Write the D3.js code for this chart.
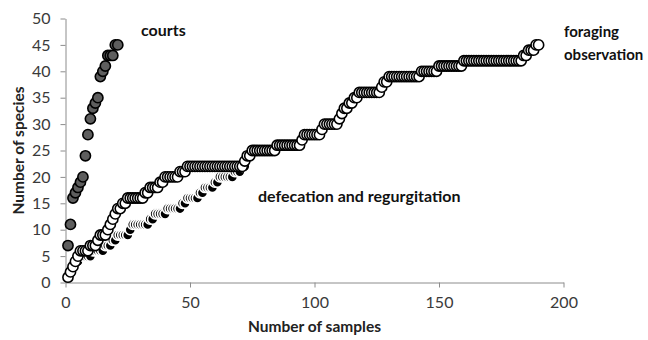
<!DOCTYPE html>
<html>
<head>
<meta charset="utf-8">
<script src="https://cdn.jsdelivr.net/npm/d3@7"></script>
<style>
  body { margin: 0; background: #fff; }
  text { font-family: Lato, "Open Sans", sans-serif; }
</style>
</head>
<body>
<script>
const width = 648;
const height = 340;

// species counts, sample n = index + 1
const courts = [7, 11, 16, 17, 18, 19, 20, 24, 28, 31, 33, 34, 35, 39, 40, 41, 43, 43, 43, 45, 45];

const foraging = [
  1, 2, 3, 4, 5, 6, 6, 6, 6, 7,
  7, 7, 8, 9, 9, 9, 10, 11, 12, 13,
  14, 14, 15, 15, 16, 16, 16, 16, 16, 16,
  16, 17, 17, 18, 18, 18, 18, 19, 19, 20,
  20, 20, 20, 20, 20, 21, 21, 21, 22, 22,
  22, 22, 22, 22, 22, 22, 22, 22, 22, 22,
  22, 22, 22, 22, 22, 22, 22, 22, 22, 22,
  22, 23, 24, 24, 25, 25, 25, 25, 25, 25,
  25, 25, 25, 25, 26, 26, 26, 26, 26, 26,
  26, 26, 26, 26, 27, 28, 28, 28, 28, 28,
  28, 28, 29, 30, 30, 30, 30, 30, 30, 31,
  32, 33, 33, 34, 34, 35, 35, 36, 36, 36,
  36, 36, 36, 36, 36, 36, 37, 38, 38, 39,
  39, 39, 39, 39, 39, 39, 39, 39, 39, 39,
  39, 39, 40, 40, 40, 40, 40, 40, 40, 41,
  41, 41, 41, 41, 41, 41, 41, 41, 41, 42,
  42, 42, 42, 42, 42, 42, 42, 42, 42, 42,
  42, 42, 42, 42, 42, 42, 42, 42, 42, 42,
  42, 42, 42, 43, 43, 44, 44, 44, 45, 45
];

const defecation = [
  1, 2, 3, 4, 4, 5, 5, 5, 5, 5,
  6, 6, 6, 6, 6, 7, 7, 7, 8, 8,
  9, 9, 9, 9, 9, 10, 11, 11, 11, 11,
  11, 11, 11, 12, 12, 13, 13, 13, 13, 13,
  14, 14, 14, 14, 14, 14, 15, 15, 16, 16,
  16, 16, 16, 17, 17, 18, 18, 18, 18, 19,
  19, 20, 20, 20, 20, 20, 20, 21, 21, 21,
  22, 22
];

const xTicks = [0, 50, 100, 150, 200];
const yTicks = [0, 5, 10, 15, 20, 25, 30, 35, 40, 45, 50];

const svg = d3.select('body')
    .append('svg')
    .attr('width', width)
    .attr('height', height);

// масштабы
const x = d3.scaleLinear().domain([0, 200]).range([65.5, 563.5]);
const y = d3.scaleLinear().domain([0, 50]).range([282.5, 18.5]);

const axisColor = '#8c8c8c';
const labelColor = '#3a3a3a';

const xAxis = svg.append('g')
    .attr('transform', `translate(0,${y(0)})`)
    .call(d3.axisBottom(x).tickValues(xTicks).tickSize(5).tickSizeOuter(0).tickPadding(9));

const yAxis = svg.append('g')
    .attr('transform', `translate(${x(0)},0)`)
    .call(d3.axisLeft(y).tickValues(yTicks).tickSize(5).tickSizeOuter(0).tickPadding(10));

[xAxis, yAxis].forEach(g => {
    g.selectAll('path, line').attr('stroke', axisColor);
    g.selectAll('text')
        .attr('fill', labelColor)
        .style('font-size', '16px');
});

svg.append('text')
    .attr('x', x(100))
    .attr('y', 332)
    .attr('text-anchor', 'middle')
    .attr('fill', '#222')
    .style('font-size', '15.5px')
    .style('font-weight', 'bold')
    .text('Number of samples');

svg.append('text')
    .attr('transform', `translate(24,${y(25)}) rotate(-90)`)
    .attr('text-anchor', 'middle')
    .attr('fill', '#222')
    .style('font-size', '15.5px')
    .style('font-weight', 'bold')
    .text('Number of species');

// серии: порядок отрисовки как в оригинале
const series = [
    {values: defecation, fill: '#000', stroke: '#fff'},
    {values: foraging, fill: '#fff', stroke: '#000'},
    {values: courts, fill: '#5e5e5e', stroke: '#000'}
];

series.forEach(s => {
    svg.append('g')
        .selectAll('circle')
        .data(s.values)
        .enter()
        .append('circle')
        .attr('cx', (d, i) => x(i + 1))
        .attr('cy', d => y(d))
        .attr('r', 5.1)
        .attr('fill', s.fill)
        .attr('stroke', s.stroke)
        .attr('stroke-width', 1.6);
});

// подписи серий
const notes = [
    {lines: ['courts'], x: 141, y: 36, size: 16},
    {lines: ['foraging', 'observation'], x: 564, y: 37, size: 15},
    {lines: ['defecation and regurgitation'], x: 258, y: 202, size: 16}
];

notes.forEach(n => {
    const t = svg.append('text')
        .attr('fill', '#111')
        .style('font-size', n.size + 'px')
        .style('font-weight', 'bold');
    n.lines.forEach((line, i) => {
        t.append('tspan')
            .attr('x', n.x)
            .attr('y', n.y + i * 23)
            .text(line);
    });
});
</script>
</body>
</html>
